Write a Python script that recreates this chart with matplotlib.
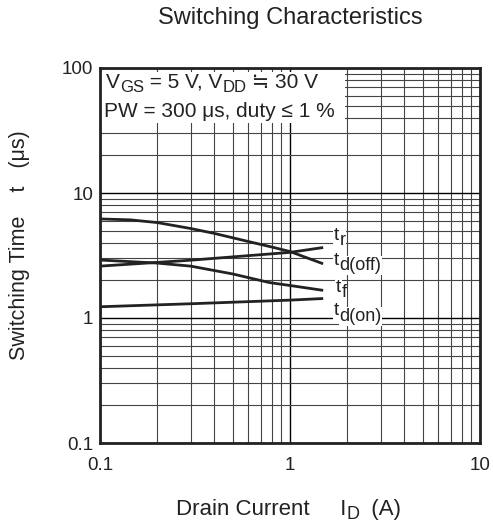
import numpy as np
import matplotlib
matplotlib.use("Agg")
import matplotlib.pyplot as plt
from matplotlib.patches import Rectangle
from matplotlib.ticker import LogLocator, NullFormatter, FixedLocator, FixedFormatter

plt.rcParams['font.family'] = ['Liberation Sans', 'DejaVu Sans']
INK = '#222222'

# curves (drain current A, time us)
id_doff = [0.1, 0.144, 0.2, 0.3, 0.4, 0.6, 0.8, 1.0, 1.47]
t_doff = [6.2, 6.1, 5.8, 5.2, 4.75, 4.1, 3.7, 3.4, 2.74]
id_r = [0.1, 0.3, 1.0, 1.47]
t_r = [2.6, 2.9, 3.35, 3.65]
id_f = [0.1, 0.2, 0.3, 0.5, 0.78, 1.0, 1.47]
t_f = [2.91, 2.75, 2.6, 2.25, 1.92, 1.82, 1.67]
id_don = [0.1, 0.3, 1.0, 1.47]
t_don = [1.23, 1.3, 1.39, 1.43]

W, H = 493, 528
fig = plt.figure(figsize=(W / 100, H / 100), dpi=100)
ax = fig.add_axes([100 / W, 1 - 443 / H, 380 / W, 375 / H])
ax.set_xscale('log')
ax.set_yscale('log')
ax.set_xlim(0.1, 10)
ax.set_ylim(0.1, 100)

ax.xaxis.set_major_locator(FixedLocator([0.1, 1, 10]))
ax.xaxis.set_major_formatter(FixedFormatter(['0.1', '1', '10']))
ax.yaxis.set_major_locator(FixedLocator([0.1, 1, 10, 100]))
ax.yaxis.set_major_formatter(FixedFormatter(['0.1', '1', '10', '100']))
ax.xaxis.set_minor_locator(LogLocator(base=10, subs=np.arange(2, 10)))
ax.yaxis.set_minor_locator(LogLocator(base=10, subs=np.arange(2, 10)))
ax.xaxis.set_minor_formatter(NullFormatter())
ax.yaxis.set_minor_formatter(NullFormatter())
ax.tick_params(which='both', length=0, labelsize=13.5, colors=INK)
ax.tick_params(axis='x', pad=10)
ax.tick_params(axis='y', pad=5)

ax.grid(True, which='major', color='black', linewidth=1.0)
ax.grid(True, which='minor', color='#444444', linewidth=0.8)
ax.set_axisbelow(True)
for s in ax.spines.values():
    s.set_linewidth(2)
    s.set_color(INK)

for x, y in [(id_doff, t_doff), (id_r, t_r), (id_f, t_f), (id_don, t_don)]:
    ax.plot(x, y, color=INK, linewidth=2.0, zorder=3)

# white box behind the conditions text
ax.add_patch(Rectangle((0.003, 1 - 55 / 375), 244 / 380, 51 / 375, transform=ax.transAxes,
                       facecolor='white', edgecolor='none', zorder=2.5))

renderer = fig.canvas.get_renderer()


def rich(px, py, parts, size, subsize, drop, box=False, **kw):
    # parts: list of (text, is_subscript); px, py = left edge and baseline in pixels from top-left
    x = px
    for s, sub in parts:
        t = fig.text(x / W, 1 - (py + (drop if sub else 0)) / H, s, fontsize=subsize if sub else size,
                     va='baseline', ha='left', color=INK, **kw)
        if box:
            t.set_bbox(dict(facecolor='white', edgecolor='none', pad=0.5))
        x += t.get_window_extent(renderer).width
    return x


rich(106, 88, [('V', False), ('GS', True), (' = 5 V, V', False), ('DD', True), (' ≒ 30 V', False)],
     15, 12, 4)
rich(104, 117, [('PW = 300 μs, duty ≤ 1 %', False)], 15, 12, 4)

rich(334, 240, [('t', False), ('r', True)], 14, 13, 5, box=True)
rich(334, 265, [('t', False), ('d(off)', True)], 14, 13, 5, box=True)
rich(336, 292, [('t', False), ('f', True)], 14, 13, 5, box=True)
rich(334, 315, [('t', False), ('d(on)', True)], 14, 13, 6, box=True)

fig.text(290 / W, 1 - 18 / H, 'Switching Characteristics', fontsize=17, ha='center', va='center',
         color=INK)
xl_end = rich(176, 515, [('Drain Current     I', False), ('D', True), ('  (A)', False)], 16, 13, 4)
fig.text(20 / W, 1 - 245 / H, 'Switching Time    t   (μs)', fontsize=15.5, ha='center', va='center',
         rotation=90, color=INK)

fig.savefig('out.png', dpi=100)
